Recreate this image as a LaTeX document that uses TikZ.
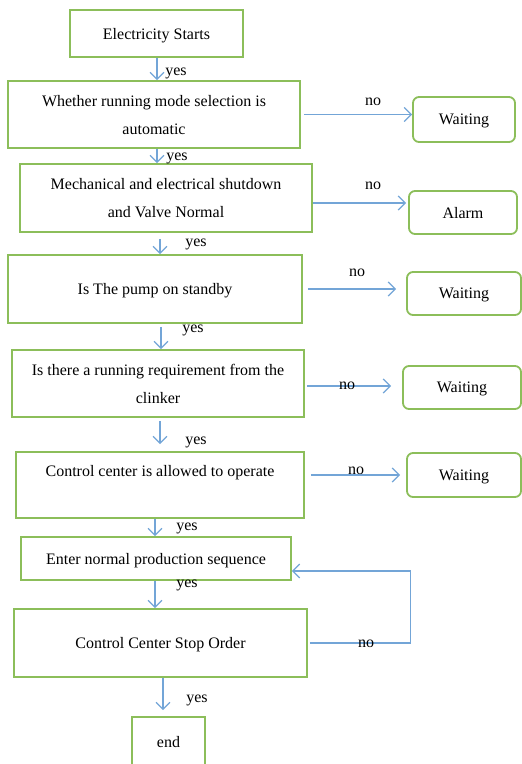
\documentclass[tikz,border=0pt]{standalone}
\usepackage{fontspec}
\setmainfont{Liberation Serif}
\usetikzlibrary{arrows.meta}
\definecolor{boxgreen}{RGB}{140,190,90}
\definecolor{flowblue}{RGB}{115,165,215}

\begin{document}
\begin{tikzpicture}[x=1pt,y=-1pt,
    every node/.style={font=\rmfamily\fontsize{16}{28}\selectfont},
    stepbox/.style={draw=boxgreen,line width=1.6pt,rectangle,align=center,inner sep=0pt,text depth=0pt},
    waitbox/.style={draw=boxgreen,line width=1.8pt,rounded corners=6pt,inner sep=0pt,text depth=0pt},
    flow/.style={draw=flowblue,line width=1.3pt,-{Straight Barb[length=7pt,width=14pt]}}]
  \useasboundingbox (0,0) rectangle (522,764);
  \clip (0,0) rectangle (522,764);

  \node[stepbox,minimum width=173pt,minimum height=47pt] (start) at (156.5,33.5) {Electricity Starts};
  \node[stepbox,minimum width=292pt,minimum height=67pt] (mode) at (154,114.5) {Whether running mode selection is\\automatic};
  \node[stepbox,minimum width=292pt,minimum height=68pt] (mech) at (166,198) {Mechanical and electrical shutdown\\and Valve Normal};
  \node[stepbox,minimum width=294pt,minimum height=68pt] (pump) at (155,289) {Is The pump on standby};
  \node[stepbox,minimum width=292pt,minimum height=67pt] (clinker) at (158,383.5) {Is there a running requirement from the\\clinker};
  \node[stepbox,minimum width=288pt,minimum height=66pt] (allow) at (160,485) {Control center is allowed to operate\\ \strut};
  \node[stepbox,minimum width=270pt,minimum height=43pt] (seq) at (156,558.5) {Enter normal production sequence};
  \node[stepbox,minimum width=293pt,minimum height=68pt] (stop) at (160.5,643) {Control Center Stop Order};
  \node[stepbox,minimum width=73pt,minimum height=50pt] (finish) at (168.5,742) {end};

  \node[waitbox,minimum width=102pt,minimum height=45pt] (wait1) at (464,119.5) {Waiting};
  \node[waitbox,minimum width=108pt,minimum height=43pt] (alarm) at (463,212.5) {Alarm};
  \node[waitbox,minimum width=114pt,minimum height=43pt] (wait2) at (464,293.5) {Waiting};
  \node[waitbox,minimum width=118pt,minimum height=43pt] (wait3) at (462,387.5) {Waiting};
  \node[waitbox,minimum width=114pt,minimum height=44pt] (wait4) at (464,475) {Waiting};

  \draw[flow] ([xshift=0.5pt]start.south) -- ([xshift=0.5pt]start.south |- mode.north);
  \draw[flow] ([xshift=3pt]mode.south) -- ([xshift=3pt]mode.south |- mech.north);
  \draw[flow,shorten <=6pt] ([xshift=-6pt]mech.south) -- ([xshift=-6pt]mech.south |- pump.north);
  \draw[flow,shorten <=3pt] ([xshift=6pt]pump.south) -- ([xshift=6pt]pump.south |- clinker.north);
  \draw[flow,shorten <=3pt,shorten >=7pt] ([xshift=2pt]clinker.south) -- ([xshift=2pt]clinker.south |- allow.north);
  \draw[flow] ([xshift=-5pt]allow.south) -- ([xshift=-5pt]allow.south |- seq.north);
  \draw[flow] ([xshift=-1pt]seq.south) -- ([xshift=-1pt]seq.south |- stop.north);
  \draw[flow,shorten >=6pt] ([xshift=2.5pt]stop.south) -- ([xshift=2.5pt]stop.south |- finish.north);

  \draw[flow,shorten <=3pt] (mode.east) -- (mode.east -| wait1.west);
  \draw[flow,shorten >=2pt] ([yshift=-5pt]mech.east) -- ([yshift=-5pt]mech.east -| alarm.west);
  \draw[flow,shorten <=5pt,shorten >=10pt] (pump.east) -- (pump.east -| wait2.west);
  \draw[flow,shorten <=2pt,shorten >=11pt] ([yshift=-2.5pt]clinker.east) -- ([yshift=-2.5pt]clinker.east -| wait3.west);
  \draw[flow,shorten <=6pt,shorten >=6pt] (allow.east |- wait4.west) -- (wait4.west);
  \draw[flow] ([xshift=2pt]stop.east) -- ++(101,0) |- ([yshift=-12.5pt]seq.east);

  \node (yes1) at (176,73) {yes};
  \node (yes2) at (177,158) {yes};
  \node (yes3) at (196,244) {yes};
  \node (yes4) at (193,330) {yes};
  \node (yes5) at (196,442) {yes};
  \node (yes6) at (187,528) {yes};
  \node (yes7) at (187,585) {yes};
  \node (yes8) at (197,700) {yes};

  \node (no1) at (373,102) {no};
  \node (no2) at (373,186) {no};
  \node (no3) at (357,273) {no};
  \node (no4) at (347,386) {no};
  \node (no5) at (356,471) {no};
  \node (no6) at (366,644) {no};
\end{tikzpicture}
\end{document}
